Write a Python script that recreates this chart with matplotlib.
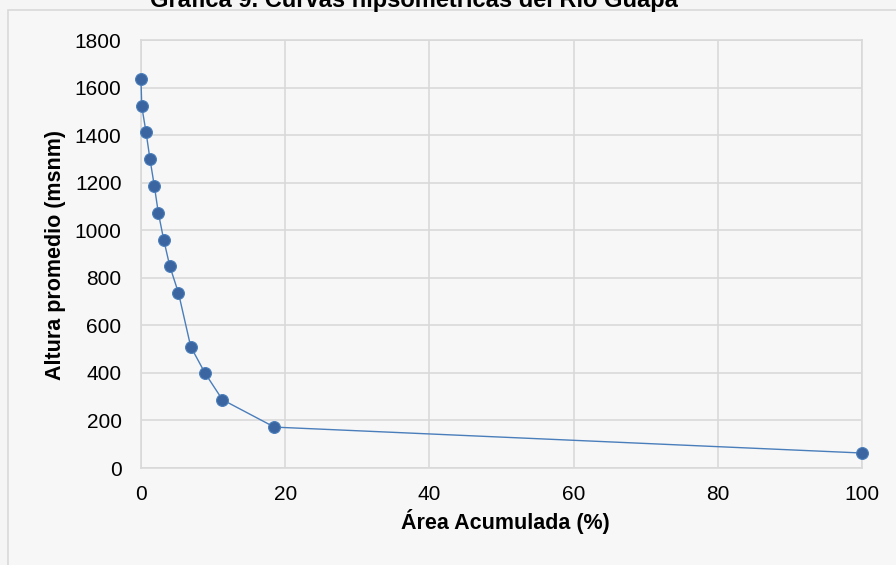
import matplotlib.pyplot as plt
from matplotlib.patches import Rectangle

plt.rcParams['font.family'] = ['Liberation Sans', 'DejaVu Sans']

# datos
area_acumulada = [0.0, 0.1, 0.7, 1.25, 1.85, 2.4, 3.15, 4.0, 5.2, 6.9, 8.9, 11.3, 18.5, 100.0]
altura_promedio = [1636, 1522, 1412, 1298, 1186, 1074, 960, 848, 736, 510, 398, 287, 172, 63]

x_ticks = [0, 20, 40, 60, 80, 100]
y_ticks = [0, 200, 400, 600, 800, 1000, 1200, 1400, 1600, 1800]

fig = plt.figure(figsize=(8.96, 5.65), dpi=100)
fig.patch.set_facecolor('#f5f5f5')

# borde del area del grafico
marco = Rectangle((8 / 896, -0.05), 1.0, 1 - 10 / 565 + 0.05,
                  transform=fig.transFigure, facecolor='#f7f7f7',
                  edgecolor='#d9d9d9', linewidth=1.2, zorder=-10)
fig.add_artist(marco)

fig.text(414 / 896, 1 - 7 / 565, 'Gráfica 9. Curvas hipsométricas del Río Guapa',
         ha='center', va='baseline', fontsize=17, fontweight='bold')

ax = fig.add_axes([141 / 896, 1 - 468 / 565, (862 - 141) / 896, (468 - 40) / 565])
ax.set_facecolor('none')

ax.plot(area_acumulada, altura_promedio, color='#4a7ebb', linewidth=1.0,
        marker='o', markersize=8.5, markerfacecolor='#3a65a0',
        markeredgecolor='#4a7ebb', markeredgewidth=0.8, zorder=3, clip_on=False)

ax.set_xlim(0, 100)
ax.set_ylim(0, 1800)
ax.set_xticks(x_ticks)
ax.set_yticks(y_ticks)
ax.tick_params(length=0, labelsize=15)
ax.tick_params(axis='x', pad=12)
ax.tick_params(axis='y', pad=14)
ax.grid(True, color='#d9d9d9', linewidth=1.2)
ax.set_axisbelow(True)
for s in ax.spines.values():
    s.set_color('#d9d9d9')
    s.set_linewidth(1.2)

ax.set_xlabel('Área Acumulada (%)', fontsize=15.5, fontweight='bold')
ax.set_ylabel('Altura promedio (msnm)', fontsize=15.5, fontweight='bold')
ax.xaxis.set_label_coords((505 - 141) / 721, (468 - 521) / 428)
ax.yaxis.set_label_coords((55 - 141) / 721, (468 - 255) / 428)
ax.xaxis.label.set_va('center')
ax.yaxis.label.set_va('center')

fig.savefig('out.png', dpi=100, facecolor=fig.get_facecolor())
